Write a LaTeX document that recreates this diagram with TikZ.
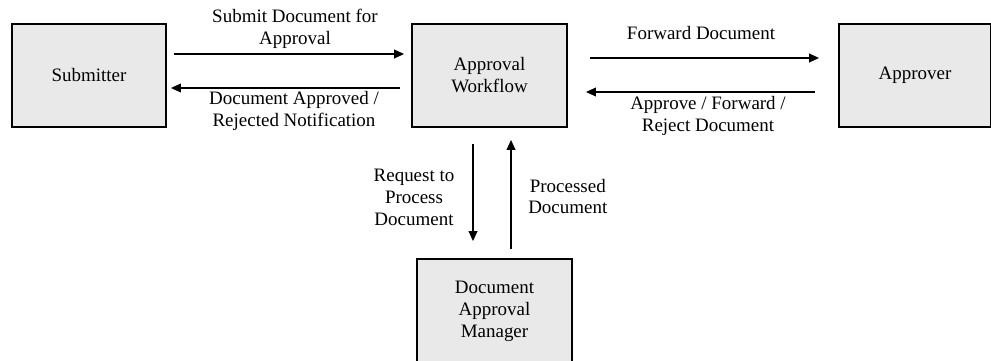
\documentclass[tikz,border=0pt]{standalone}
\usepackage{fontspec}
\setmainfont{Liberation Serif}
\usetikzlibrary{arrows.meta}
\begin{document}
\begin{tikzpicture}[
        font=\fontsize{13.5}{15.6}\selectfont,
        actor/.style={draw, line width=1.3pt, fill=gray!17, inner sep=0pt, align=center, minimum height=2.575cm},
        flow/.style={line width=0.9pt, -{Triangle[length=0.25cm, width=0.22cm]}},
        lbl/.style={align=center, inner sep=0pt}
    ]
                \useasboundingbox (0, 0) rectangle (24.775, 9);

                \node[actor, minimum width=3.85cm] (submitter) at (2.225, 7.1125) {Submitter};
                \node[actor, minimum width=3.875cm] (workflow) at (12.2375, 7.1125) {Approval\\Workflow};
                \node[actor, minimum width=3.8cm] (approver) at (22.875, 7.1125) {Approver};
                \node[actor, minimum width=3.875cm, minimum height=2.6cm] (manager) at (12.3625, 1.225) {Document\\Approval\\Manager};

                \draw[flow, shorten <=0.175cm, shorten >=0.175cm] ([yshift=0.5375cm]submitter.east) -- ([yshift=0.5375cm]workflow.west);
                \draw[flow, shorten <=0.275cm, shorten >=0.1cm] ([yshift=-0.3125cm]workflow.west) -- ([yshift=-0.3125cm]submitter.east);
                \draw[flow, shorten <=0.55cm, shorten >=0.475cm] ([yshift=0.4375cm]workflow.east) -- ([yshift=0.4375cm]approver.west);
                \draw[flow, shorten <=0.575cm, shorten >=0.45cm] ([yshift=-0.4125cm]approver.west) -- ([yshift=-0.4125cm]workflow.east);

                \draw[flow, shorten <=0.4cm, shorten >=0.425cm] ([xshift=-0.4125cm]workflow.south) -- ([xshift=-0.4125cm]workflow.south |- manager.north);
                \draw[flow, shorten <=0.225cm, shorten >=0.3cm] ([xshift=0.5375cm]workflow.south |- manager.north) -- ([xshift=0.5375cm]workflow.south);

                \node[lbl] (submitlbl) at (7.375, 8.2875) {Submit Document for\\Approval};
                \node[lbl] (notifylbl) at (7.35, 6.225) {Document Approved /\\Rejected Notification};
                \node[lbl] (forwardlbl) at (17.525, 8.175) {Forward Document};
                \node[lbl] (decidelbl) at (17.7, 6.1) {Approve / Forward /\\Reject Document};
                \node[lbl] (requestlbl) at (10.35, 4.075) {Request to\\Process\\Document};
                \node[lbl, anchor=west] (processedlbl) at (13.2, 4.0875) {Processed\\Document};
            \end{tikzpicture}
\end{document}
